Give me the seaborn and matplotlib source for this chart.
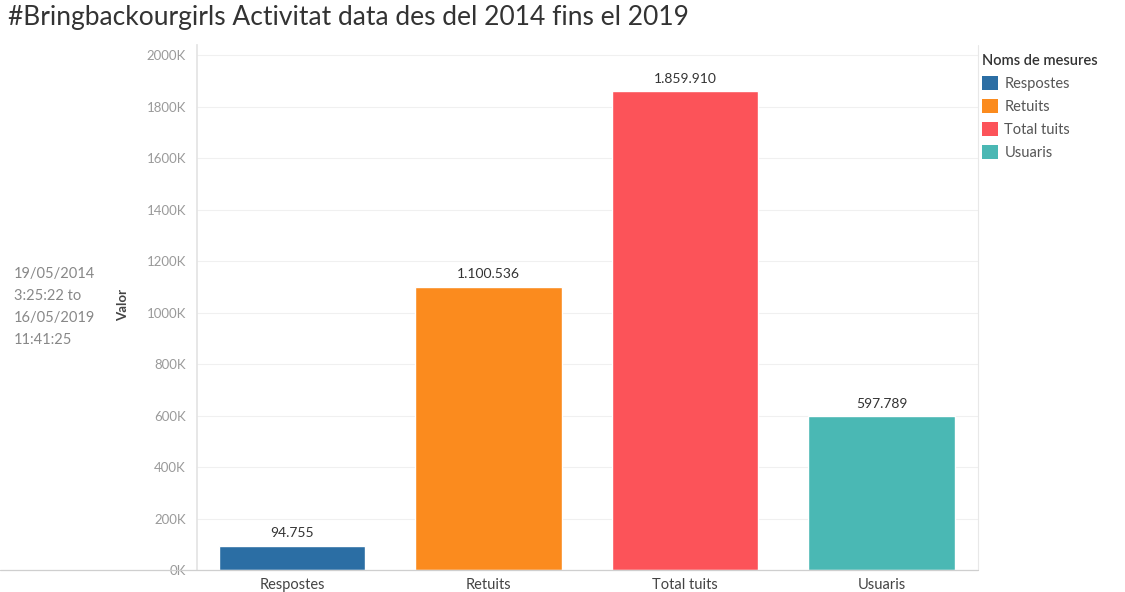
import matplotlib
matplotlib.use("Agg")
import matplotlib.pyplot as plt
import seaborn as sns
import pandas as pd
from matplotlib.patches import Patch
from matplotlib.lines import Line2D

categories = ["Respostes", "Retuits", "Total tuits", "Usuaris"]
values = [94755, 1100536, 1859910, 597789]
value_labels = ["94.755", "1.100.536", "1.859.910", "597.789"]
colors = ["#2b6ea4", "#fb8b1e", "#fc5359", "#4ab8b4"]
yticks = [0, 200000, 400000, 600000, 800000, 1000000, 1200000, 1400000, 1600000, 1800000, 2000000]
ytick_labels = ["0K", "200K", "400K", "600K", "800K", "1000K", "1200K", "1400K", "1600K", "1800K", "2000K"]

sns.set_theme(style="white")
plt.rcParams['font.family'] = ['Lato', 'DejaVu Sans']

df = pd.DataFrame({"cat": categories, "val": values})

fig = plt.figure(figsize=(11.25, 5.92), dpi=100)
ax = fig.add_axes([197/1125, 1-570/592, (978-197)/1125, (570-45)/592])

sns.barplot(data=df, x="cat", y="val", hue="cat", palette=colors, order=categories,
            hue_order=categories, dodge=False, width=0.745, legend=False, ax=ax, saturation=1)

ax.set_ylim(0, 2040000)
ax.set_xlim(-0.4835, 3.4915)
ax.set_yticks(yticks)
ax.set_yticklabels(ytick_labels, color="#9a9a9a", fontsize=9.5)
ax.tick_params(axis="y", length=0, pad=8)
ax.tick_params(axis="x", length=0, pad=6, labelsize=10.5, labelcolor="#444444")
ax.set_xlabel("")
ax.set_ylabel("")
for y in yticks[1:]:
    ax.axhline(y, color="#f0f0f0", lw=0.8, zorder=0)
for s in ["top", "right"]:
    ax.spines[s].set_visible(False)
ax.spines["left"].set_color("#e4e4e4")
ax.spines["bottom"].set_visible(False)
ax.set_axisbelow(True)

for i, (v, lab) in enumerate(zip(values, value_labels)):
    ax.text(i, v + 25000, lab, ha="center", va="bottom", fontsize=10, color="#333333")

# right border line of pane
fig.add_artist(Line2D([978/1125, 978/1125], [1-570/592, 1-45/592], color="#e8e8e8", lw=0.8))
# bottom axis line across
fig.add_artist(Line2D([0, 978/1125], [1-570/592, 1-570/592], color="#cfcfcf", lw=0.9))

fig.text(8/1125, 1-18/592, "#Bringbackourgirls Activitat data des del 2014 fins el 2019",
         fontsize=19, color="#333333", ha="left", va="center")

fig.text(14/1125, 1-307/592, "19/05/2014\n3:25:22 to\n16/05/2019\n11:41:25",
         fontsize=10.5, color="#888888", ha="left", va="center", linespacing=1.7)
fig.text(123/1125, 1-305/592, "Valor", rotation=90, fontsize=9.5, fontweight="bold",
         color="#444444", ha="center", va="center")

handles = [Patch(facecolor=c, edgecolor="none") for c in colors]
leg = fig.legend(handles, categories, title="Noms de mesures", loc="upper left",
                 bbox_to_anchor=(978/1125, 1-50/592), frameon=False, fontsize=10.5,
                 title_fontsize=10.5, handlelength=1.1, handleheight=1.1, handletextpad=0.4,
                 labelspacing=0.55, borderaxespad=0, alignment="left", borderpad=0.3)
for t in leg.get_texts():
    t.set_color("#555555")
leg.get_title().set_color("#333333")
leg.get_title().set_fontweight("semibold")

fig.savefig("out.png", dpi=100)
